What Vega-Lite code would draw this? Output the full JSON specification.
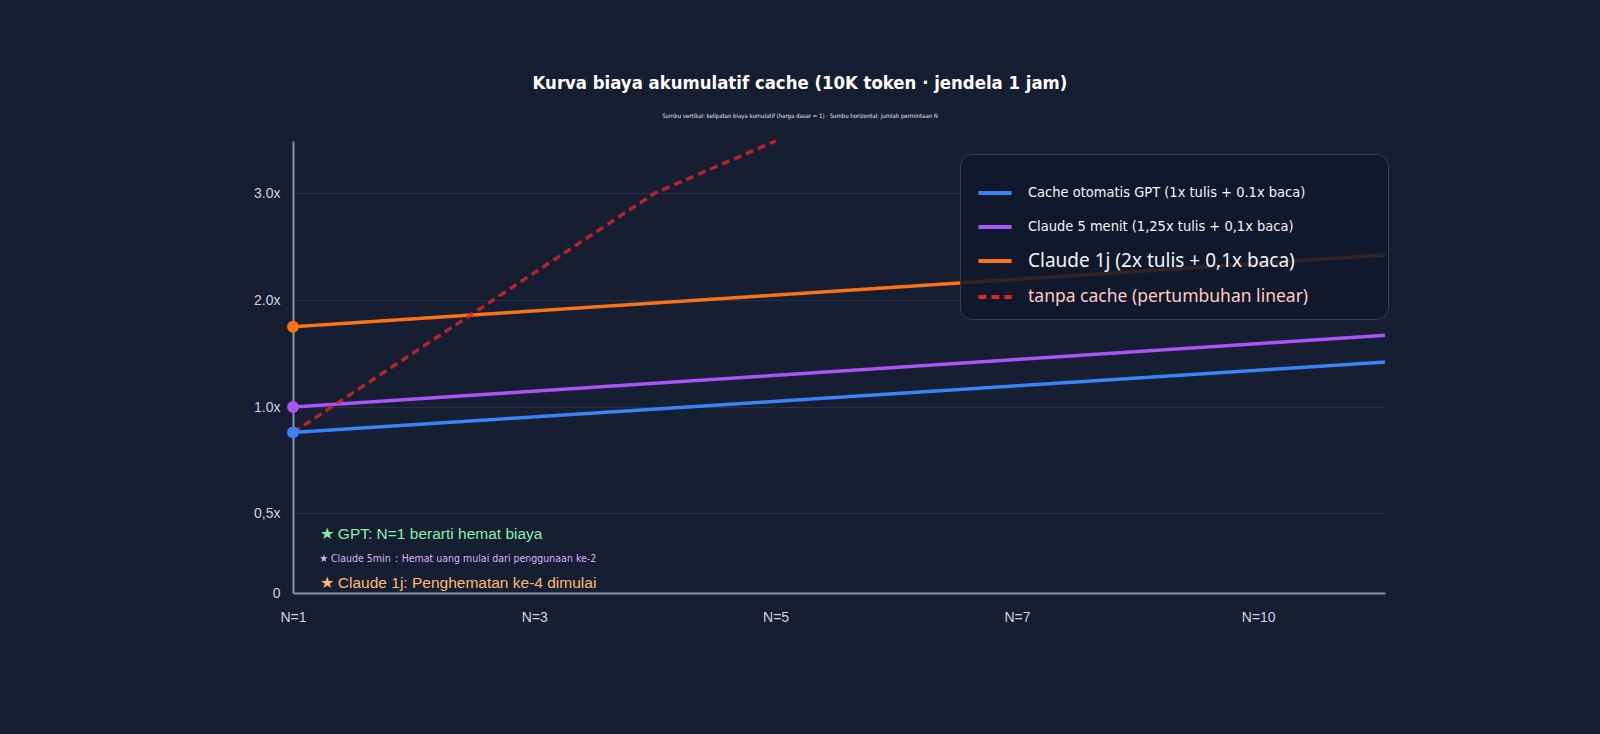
{
  "$schema": "https://vega.github.io/schema/vega-lite/v6.json",
  "description": "Kurva biaya akumulatif cache: GPT vs Claude 5 menit vs Claude 1j vs tanpa cache",
  "width": 1092,
  "height": 452,
  "autosize": {"type": "none"},
  "padding": {"left": 293, "top": 141, "right": 215, "bottom": 141},
  "background": "#161e32",
  "title": {
    "text": "Kurva biaya akumulatif cache (10K token · jendela 1 jam)",
    "subtitle": "Sumbu vertikal: kelipatan biaya kumulatif (harga dasar = 1) · Sumbu horizontal: jumlah permintaan N",
    "anchor": "middle",
    "frame": "group",
    "dx": -39,
    "offset": 15,
    "font": "DejaVu Sans Condensed, sans-serif",
    "fontWeight": "bold",
    "fontSize": 18.4,
    "color": "#ffffff",
    "subtitleFont": "DejaVu Sans Condensed, sans-serif",
    "subtitleFontSize": 6,
    "subtitleColor": "#e2e8f0",
    "subtitlePadding": 21
  },
  "datasets": {
    "kurva": [
      {"seri": "Cache otomatis GPT (1x tulis + 0.1x baca)", "N": 1, "biaya": 0.88},
      {"seri": "Cache otomatis GPT (1x tulis + 0.1x baca)", "N": 11.6, "biaya": 1.42},
      {"seri": "Claude 5 menit (1,25x tulis + 0,1x baca)", "N": 1, "biaya": 1.0},
      {"seri": "Claude 5 menit (1,25x tulis + 0,1x baca)", "N": 11.6, "biaya": 1.67},
      {"seri": "Claude 1j (2x tulis + 0,1x baca)", "N": 1, "biaya": 1.75},
      {"seri": "Claude 1j (2x tulis + 0,1x baca)", "N": 11.6, "biaya": 2.42},
      {"seri": "tanpa cache (pertumbuhan linear)", "N": 1, "biaya": 0.88},
      {"seri": "tanpa cache (pertumbuhan linear)", "N": 4, "biaya": 3.0},
      {"seri": "tanpa cache (pertumbuhan linear)", "N": 5, "biaya": 3.49}
    ],
    "catatan": [
      {"id": "gpt", "teks": "★ GPT: N=1 berarti hemat biaya", "N": 1.22, "biaya": 0.367},
      {"id": "5min", "teks": "★ Claude 5min：Hemat uang mulai dari penggunaan ke-2", "N": 1.22, "biaya": 0.21},
      {"id": "1j", "teks": "★ Claude 1j: Penghematan ke-4 dimulai", "N": 1.22, "biaya": 0.064}
    ]
  },
  "layer": [
    {
      "data": {"name": "kurva"},
      "mark": {"type": "line", "strokeWidth": 3.5},
      "encoding": {
        "x": {
          "field": "N",
          "type": "quantitative",
          "scale": {"domain": [1, 3, 5, 7, 10, 11.6], "range": [0, 241.3, 482.6, 724, 965.2, 1092], "zero": false, "nice": false},
          "axis": {
            "values": [1, 3, 5, 7, 10],
            "labelExpr": "'N=' + datum.value",
            "labelFlush": false,
            "title": null,
            "grid": false,
            "ticks": false,
            "domainColor": "#8a94a6",
            "domainWidth": 2,
            "labelColor": "#cbd5e1",
            "labelFont": "Liberation Sans",
            "labelFontSize": 14,
            "labelPadding": 17
          }
        },
        "y": {
          "field": "biaya",
          "type": "quantitative",
          "scale": {"domain": [0, 0.5, 1, 2, 3, 3.49], "range": [452, 372, 266, 159, 52, 0], "zero": false, "nice": false},
          "axis": {
            "values": [0, 0.5, 1, 2, 3],
            "labelExpr": "datum.value == 0 ? '0' : datum.value == 0.5 ? '0,5x' : format(datum.value, '.1f') + 'x'",
            "title": null,
            "ticks": false,
            "domainColor": "#8a94a6",
            "domainWidth": 2,
            "gridColor": "#263047",
            "gridWidth": 1,
            "labelColor": "#cbd5e1",
            "labelFont": "Liberation Sans",
            "labelFontSize": 14,
            "labelPadding": 13
          }
        },
        "color": {
          "field": "seri",
          "type": "nominal",
          "scale": {
            "domain": [
              "Cache otomatis GPT (1x tulis + 0.1x baca)",
              "Claude 5 menit (1,25x tulis + 0,1x baca)",
              "Claude 1j (2x tulis + 0,1x baca)",
              "tanpa cache (pertumbuhan linear)"
            ],
            "range": ["#3b82f6", "#a855f7", "#f97316", "#dc2626"]
          },
          "legend": {
            "title": "———————————————————————————————————————————————————————————————————",
            "titleFont": "Liberation Sans",
            "titleFontSize": 6,
            "titlePadding": 1,
            "titleLimit": 2000,
            "titleOpacity": 0,
            "orient": "none",
            "legendX": 667,
            "legendY": 13,
            "direction": "vertical",
            "padding": 13,
            "fillColor": "rgba(15,23,42,0.86)",
            "strokeColor": "#334155",
            "cornerRadius": 12,
            "symbolType": "stroke",
            "symbolStrokeWidth": 4,
            "symbolSize": 1100,
            "symbolOffset": 3,
            "labelOffset": 14,
            "rowPadding": 7,
            "labelLimit": 400,
            "labelFont": "DejaVu Sans Condensed, sans-serif",
            "labelFontSize": 14.5,
            "labelColor": "#f1f5f9",
            "encoding": {
              "labels": {
                "font": {"condition": {"test": "datum.value == 'Claude 1j (2x tulis + 0,1x baca)' || datum.value == 'tanpa cache (pertumbuhan linear)'", "value": "Noto Sans"}, "value": "DejaVu Sans Condensed, sans-serif"},
                "fontSize": {"condition": [
                  {"test": "datum.value == 'Claude 1j (2x tulis + 0,1x baca)'", "value": 19},
                  {"test": "datum.value == 'tanpa cache (pertumbuhan linear)'", "value": 17.5}
                ], "value": 14.5},
                "fill": {"condition": {"test": "datum.value == 'tanpa cache (pertumbuhan linear)'", "value": "#fecaca"}, "value": "#f1f5f9"}
              }
            }
          }
        },
        "strokeDash": {
          "field": "seri",
          "type": "nominal",
          "scale": {
            "domain": [
              "Cache otomatis GPT (1x tulis + 0.1x baca)",
              "Claude 5 menit (1,25x tulis + 0,1x baca)",
              "Claude 1j (2x tulis + 0,1x baca)",
              "tanpa cache (pertumbuhan linear)"
            ],
            "range": [[1, 0], [1, 0], [1, 0], [8, 5]]
          },
          "legend": {
            "title": "———————————————————————————————————————————————————————————————————"
          }
        },
        "strokeOpacity": {"condition": {"test": "datum.seri == 'tanpa cache (pertumbuhan linear)'", "value": 0.8}, "value": 1}
      }
    },
    {
      "data": {"name": "kurva"},
      "transform": [{"filter": "datum.N == 1 && datum.seri != 'tanpa cache (pertumbuhan linear)'"}],
      "mark": {"type": "point", "filled": true, "size": 140, "opacity": 1},
      "encoding": {
        "x": {"field": "N", "type": "quantitative"},
        "y": {"field": "biaya", "type": "quantitative"},
        "color": {"field": "seri", "type": "nominal", "legend": null}
      }
    },
    {
      "data": {"name": "catatan"},
      "transform": [{"filter": "datum.id != '5min'"}],
      "mark": {"type": "text", "align": "left", "baseline": "middle", "font": "Liberation Sans", "fontSize": 15.5},
      "encoding": {
        "x": {"field": "N", "type": "quantitative"},
        "y": {"field": "biaya", "type": "quantitative"},
        "text": {"field": "teks"},
        "color": {"condition": {"test": "datum.id == 'gpt'", "value": "#86efac"}, "value": "#fdba74"}
      }
    },
    {
      "data": {"name": "catatan"},
      "transform": [{"filter": "datum.id == '5min'"}],
      "mark": {"type": "text", "align": "left", "baseline": "middle", "font": "DejaVu Sans Condensed, sans-serif", "fontSize": 10.5, "color": "#d8b4fe"},
      "encoding": {
        "x": {"field": "N", "type": "quantitative"},
        "y": {"field": "biaya", "type": "quantitative"},
        "text": {"field": "teks"}
      }
    }
  ],
  "config": {
    "view": {"stroke": null},
    "font": "Liberation Sans"
  }
}
